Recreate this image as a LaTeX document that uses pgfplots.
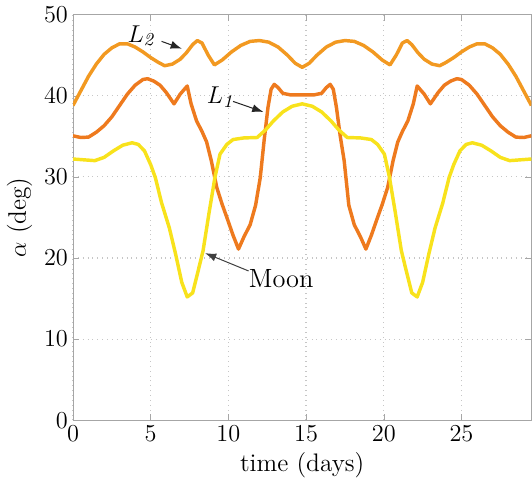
\documentclass[border=0pt]{standalone}
\usepackage{pgfplots}
\pgfplotsset{compat=1.18}
\usetikzlibrary{arrows.meta}

\definecolor{ltwo}{RGB}{242,153,33}
\definecolor{lone}{RGB}{238,122,30}
\definecolor{moon}{RGB}{248,226,28}

\begin{document}
\begin{tikzpicture}
\begin{axis}[
  scale only axis,
  width=226pt, height=200pt,
  xmin=0, xmax=29.5, ymin=0, ymax=50,
  xtick={0,5,10,15,20,25},
  ytick={0,10,20,30,40,50},
  axis line style={gray!70},
  tick style={gray!70},
  tick align=inside,
  major tick length=3pt,
  grid=major,
  major grid style={gray!45, dotted, line width=0.6pt},
  ticklabel style={font=\fontsize{13}{15}\selectfont},
  xticklabel style={yshift=1pt},
  yticklabel style={xshift=1pt},
  label style={font=\fontsize{12.5}{14}\selectfont},
  xlabel={time (days)},
  ylabel={$\alpha$ (deg)},
  xlabel style={yshift=1pt},
  ylabel style={yshift=-1pt},
  line join=round,
]
% L2
\addplot[ltwo, line width=1.7pt] coordinates {
(0,38.8) (0.5,40.6) (1,42.4) (1.5,43.9) (2,45.1) (2.5,45.9) (3,46.4) (3.5,46.4)
(4,46.0) (4.5,45.4) (5,44.7) (5.5,44.1) (5.9,43.7) (6.4,43.9) (6.9,44.5) (7.3,45.3)
(7.7,46.3) (8.0,46.8) (8.3,46.5) (8.7,45.0) (9.1,43.8) (9.6,44.4) (10.2,45.4)
(10.8,46.2) (11.4,46.7) (12.0,46.8) (12.6,46.6) (13.2,46.0) (13.8,45.0) (14.3,44.0)
(14.75,43.5) (15.2,44.0) (15.7,45.0) (16.3,46.0) (16.9,46.6) (17.5,46.8) (18.1,46.7)
(18.7,46.2) (19.3,45.4) (19.9,44.4) (20.4,43.8) (20.8,45.0) (21.2,46.5) (21.5,46.8)
(21.8,46.3) (22.2,45.3) (22.6,44.5) (23.1,43.9) (23.6,43.7) (24.0,44.1) (24.5,44.7)
(25.0,45.4) (25.5,46.0) (26.0,46.4) (26.5,46.4) (27.0,45.9) (27.5,45.1) (28.0,43.9)
(28.5,42.4) (29.0,40.6) (29.5,38.8)
};
% L1
\addplot[lone, line width=1.7pt] coordinates {
(0,35.06) (0.5,34.85) (1.0,34.9) (1.5,35.5) (2.0,36.3) (2.5,37.4) (3.0,38.8)
(3.5,40.2) (4.0,41.3) (4.5,42.0) (4.8,42.1) (5.2,41.8) (5.6,41.3) (6.0,40.4)
(6.5,39.0) (6.9,40.2) (7.35,41.2) (7.6,39.0) (7.95,36.9) (8.3,35.6) (8.6,34.3)
(8.9,32.0) (9.25,28.7) (9.6,26.6) (9.9,25.0) (10.3,22.8) (10.65,21.1) (11.0,22.6)
(11.4,24.1) (11.75,26.5) (12.05,29.9) (12.3,34.5) (12.55,38.6) (12.75,40.8)
(12.95,41.4) (13.2,41.0) (13.5,40.3) (14.0,40.1) (14.75,40.1) (15.5,40.1)
(16.0,40.3) (16.3,41.0) (16.55,41.4) (16.75,40.8) (16.95,38.6) (17.2,35.0)
(17.45,32.0) (17.75,26.5) (18.1,24.1) (18.5,22.6) (18.85,21.1) (19.2,22.8)
(19.6,25.0) (19.9,26.6) (20.25,28.7) (20.6,32.0) (20.9,34.3) (21.2,35.6)
(21.55,36.9) (21.9,39.0) (22.15,41.2) (22.6,40.2) (23.0,39.0) (23.5,40.4)
(23.9,41.3) (24.3,41.8) (24.7,42.1) (25.0,42.0) (25.5,41.3) (26.0,40.2)
(26.5,38.8) (27.0,37.4) (27.5,36.3) (28.0,35.5) (28.5,34.9) (29.0,34.85) (29.5,35.06)
};
% Moon
\addplot[moon, line width=1.7pt] coordinates {
(0,32.2) (0.7,32.1) (1.4,32.0) (2.0,32.4) (2.6,33.2) (3.2,33.9) (3.8,34.2)
(4.2,34.0) (4.6,33.2) (5.0,31.5) (5.3,29.9) (5.7,26.8) (6.2,23.7) (6.6,20.5)
(7.0,17.0) (7.35,15.2) (7.7,15.7) (8.0,18.0) (8.37,20.9) (8.75,25.5) (9.13,29.9)
(9.46,32.8) (9.9,34.0) (10.3,34.6) (11.0,34.8) (11.85,34.85) (12.4,35.8)
(12.9,36.9) (13.5,38.0) (14.1,38.7) (14.75,39.0) (15.4,38.7) (16.0,38.0)
(16.6,36.9) (17.1,35.8) (17.65,34.85) (18.5,34.8) (19.2,34.6) (19.6,34.0)
(20.04,32.8) (20.37,29.9) (20.75,25.5) (21.13,20.9) (21.5,18.0) (21.8,15.7)
(22.15,15.2) (22.5,17.0) (22.9,20.5) (23.3,23.7) (23.8,26.8) (24.2,29.9)
(24.5,31.5) (24.9,33.2) (25.3,34.0) (25.7,34.2) (26.3,33.9) (26.9,33.2)
(27.5,32.4) (28.1,32.0) (28.8,32.1) (29.5,32.2)
};
% annotations
\node[font=\fontsize{13}{15}\selectfont] at (axis cs:4.45,47.4) {$L_{\mathit{2}}$};
\draw[-{Latex[length=5.5pt,width=4pt]}, black!85, line width=0.5pt] (axis cs:5.7,46.7) -- (axis cs:7.0,45.8);
\node[font=\fontsize{13}{15}\selectfont] at (axis cs:9.55,39.8) {$L_{\mathit{1}}$};
\draw[-{Latex[length=5.5pt,width=4pt]}, black!85, line width=0.5pt] (axis cs:10.3,39.3) -- (axis cs:12.25,38.0);
\node[font=\fontsize{13}{15}\selectfont] at (axis cs:13.4,17.5) {Moon};
\draw[-{Latex[length=5.5pt,width=4pt]}, black!75, line width=0.5pt] (axis cs:11.3,18.4) -- (axis cs:8.5,20.6);
\end{axis}
\end{tikzpicture}
\end{document}
